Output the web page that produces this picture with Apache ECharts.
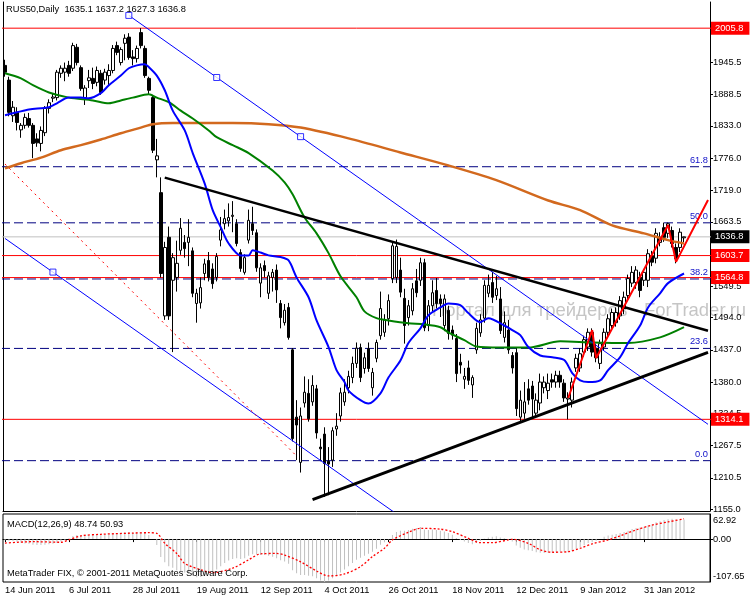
<!DOCTYPE html>
<html><head><meta charset="utf-8">
<script src="https://cdn.jsdelivr.net/npm/echarts@6/dist/echarts.min.js"></script>
<style>html,body{margin:0;padding:0;background:#fff}#c{width:750px;height:600px}</style>
</head><body><div id="c"></div>
<script>
// ---------- DATA ----------
const dateLabels = ['14 Jun 2011','6 Jul 2011','28 Jul 2011','19 Aug 2011','12 Sep 2011','4 Oct 2011','26 Oct 2011','18 Nov 2011','12 Dec 2011','9 Jan 2012','31 Jan 2012'];
const labelStep = 16;

const opens = [1940,1914,1851,1857,1826,1834,1846,1834,1810,1802,
1821,1864,1882,1883,1926,1928,1940,1935,1972,1936,
1883,1913,1917,1910,1926,1914,1922,1931,1975,1945,
1979,1990,1955,1952,1998,1970,1917,1883,1773,1715,
1497,1636,1560,1565,1613,1627,1627,1612,1519,1520,
1572,1595,1580,1565,1631,1660,1665,1673,1660,1609,
1574,1631,1660,1644,1555,1586,1537,1565,1578,1519,
1485,1512,1437,1318,1238,1343,1360,1345,1368,1265,
1288,1240,1242,1297,1320,1345,1370,1388,1413,1441,
1404,1439,1370,1422,1462,1468,1492,1563,1565,1578,
1528,1494,1506,1559,1560,1591,1480,1515,1542,1527,
1480,1507,1472,1457,1415,1385,1405,1375,1437,1467,
1493,1537,1556,1533,1527,1459,1472,1427,1432,1318,
1325,1368,1373,1325,1343,1370,1365,1384,1380,1392,
1378,1350,1348,1405,1405,1433,1442,1468,1440,1413,
1442,1468,1480,1485,1497,1510,1533,1555,1556,1565,
1560,1560,1603,1599,1627,1653,1643,1648,1618,1618,
1635.1];
const highs = [1950,1920,1877,1866,1838,1855,1856,1838,1820,1832,
1868,1880,1890,1932,1940,1945,1948,1980,1978,1940,
1905,1932,1936,1938,1932,1934,1942,1976,1982,1972,
1995,1997,1967,1975,2006,1975,1920,1888,1810,1742,
1628,1655,1608,1630,1670,1640,1668,1618,1545,1565,
1598,1610,1590,1608,1672,1685,1696,1700,1668,1615,
1606,1685,1690,1650,1590,1595,1575,1580,1588,1525,
1518,1520,1440,1348,1335,1390,1385,1392,1375,1280,
1300,1265,1300,1325,1370,1385,1400,1425,1450,1448,
1432,1450,1405,1455,1540,1500,1535,1628,1632,1600,
1545,1525,1555,1580,1600,1598,1525,1560,1564,1535,
1535,1515,1480,1465,1430,1405,1418,1392,1485,1500,
1560,1570,1575,1568,1548,1505,1490,1433,1440,1365,
1380,1385,1382,1360,1395,1390,1395,1395,1400,1400,
1385,1362,1388,1430,1440,1462,1475,1475,1448,1455,
1475,1500,1510,1512,1532,1540,1570,1585,1585,1575,
1580,1615,1612,1652,1645,1662,1662,1655,1625,1652,
1637.2];
const lows = [1920,1850,1840,1825,1812,1828,1830,1776,1796,1788,
1815,1855,1875,1878,1918,1912,1920,1930,1940,1895,
1870,1900,1898,1903,1888,1906,1904,1926,1958,1940,
1949,1950,1940,1945,1970,1918,1888,1785,1742,1565,
1490,1490,1433,1540,1605,1600,1585,1530,1485,1510,
1560,1558,1545,1558,1620,1650,1655,1645,1620,1575,
1570,1625,1640,1575,1530,1565,1527,1540,1520,1475,
1480,1455,1275,1242,1220,1335,1310,1338,1280,1240,
1177,1180,1230,1285,1310,1338,1360,1378,1405,1380,
1395,1398,1356,1415,1455,1460,1480,1555,1555,1530,
1448,1480,1498,1530,1550,1470,1470,1505,1510,1495,
1470,1455,1455,1380,1395,1368,1375,1352,1430,1460,
1485,1530,1520,1525,1465,1450,1430,1395,1320,1310,
1315,1340,1315,1318,1330,1360,1350,1370,1370,1370,
1345,1314,1335,1398,1398,1425,1435,1425,1415,1403,
1435,1460,1472,1478,1490,1500,1525,1548,1545,1530,
1550,1548,1585,1590,1620,1628,1635,1618,1590,1610,
1627.3];
const closes = [1928,1857,1866,1839,1834,1848,1834,1802,1803,1825,
1864,1874,1884,1928,1935,1935,1926,1975,1945,1899,
1900,1918,1908,1931,1892,1928,1931,1970,1963,1968,
1988,1954,1952,1970,1975,1922,1896,1790,1780,1572,
1618,1497,1600,1590,1652,1616,1636,1537,1537,1547,
1589,1565,1554,1602,1649,1669,1671,1675,1625,1581,
1600,1666,1648,1582,1582,1577,1568,1574,1543,1494,
1507,1459,1280,1304,1320,1362,1315,1374,1290,1262,
1236,1235,1294,1302,1361,1362,1390,1413,1440,1388,
1423,1404,1397,1450,1510,1490,1524,1621,1620,1539,
1480,1515,1545,1538,1591,1476,1515,1538,1519,1519,
1527,1466,1463,1395,1410,1390,1383,1388,1475,1490,
1551,1551,1530,1545,1471,1485,1437,1405,1333,1348,
1345,1348,1350,1348,1380,1380,1378,1380,1392,1380,
1352,1352,1380,1422,1430,1455,1468,1433,1423,1448,
1468,1492,1503,1503,1524,1530,1563,1574,1578,1542,
1574,1607,1592,1643,1636,1636,1660,1625,1598,1645,
1636.8];

// moving averages: [bar index, value]
const maBlue = [[0,1852],[3,1857],[6,1862],[11,1866],[13,1873],[16,1883],[19,1883],[21,1882],[24,1891],[26,1905],[29,1922],[31,1935],[33,1940],[35,1942],[36,1937],[38,1922],[40,1896],[42,1860],[45,1825],[47,1785],[50,1731],[52,1684],[54,1654],[56,1625],[59,1604],[61,1604],[62,1613],[64,1609],[66,1604],[69,1601],[71,1595],[73,1565],[76,1530],[78,1489],[81,1442],[83,1401],[85,1380],[86,1365],[89,1348],[91,1342],[94,1360],[96,1388],[99,1418],[101,1449],[104,1475],[106,1498],[109,1512],[111,1519],[114,1516],[116,1502],[119,1486],[121,1493],[125,1480],[127,1472],[129,1463],[131,1442],[134,1427],[137,1424],[140,1419],[142,1396],[144,1383],[146,1380],[149,1383],[151,1401],[154,1424],[156,1449],[159,1480],[161,1512],[164,1537],[166,1555],[170,1572]];
const maGreen = [[0,1926],[4,1917],[7,1905],[11,1892],[16,1883],[22,1878],[26,1873],[29,1878],[32,1883],[36,1889],[38,1883],[41,1875],[44,1860],[47,1846],[51,1825],[53,1813],[57,1799],[61,1785],[67,1754],[70,1733],[72,1712],[75,1671],[78,1643],[81,1608],[84,1567],[88,1530],[90,1505],[93,1493],[96,1489],[101,1484],[105,1482],[109,1477],[111,1468],[115,1454],[118,1443],[124,1441],[131,1441],[139,1452],[147,1450],[156,1449],[164,1459],[170,1477]];
const maOrange = [[0,1758],[4,1767],[9,1777],[14,1790],[19,1799],[24,1809],[29,1820],[34,1830],[37,1836],[42,1838],[57,1838],[66,1836],[74,1830],[86,1811],[99,1786],[111,1763],[123,1737],[136,1701],[144,1684],[152,1657],[160,1643],[166,1631],[170,1625]];

// drawn objects: [bar index, price]
const trendDown = [[40,1741.5],[176,1470.8]];
const trendUp = [[77,1172],[176,1432.6]];
const channelUpper = [[31,2028.4],[176,1305.3]];
const channelLower = [[0,1634],[100,1137]];
const channelAnchors = [[31,2028.4],[53,1918.6],[74,1814],[12,1574.5]];
const redDotted = [[0,1765.6],[73,1249.2]];
const zigzag = [[141,1351.8],[147,1472],[148,1422.5],[166,1657.7],[168,1592.6],[176,1702]];

const priceTicks = [1945.5,1888.5,1833.0,1776.0,1719.0,1663.5,1549.5,1494.0,1437.0,1380.0,1324.5,1267.5,1210.5,1155.0];
const redLevels = [2005.8,1603.7,1564.8,1314.1];
const lastPrice = 1636.8;
const fibLabels = ['0.0','23.6','38.2','50.0','61.8'];
const fibValues = [1241,1439.5,1562.3,1661.6,1760.8];

const macdHist = [-3,-4,-5,-7,-9,-11,-12,-14,-15,-15,
-14,-13,-12,-10,-6,-2,2,8,10,9,
8,9,10,11,10,11,12,14,15,16,
18,17,16,17,18,15,10,0,-15,-45,
-58,-68,-72,-78,-80,-84,-86,-92,-96,-95,
-92,-88,-84,-76,-68,-60,-54,-50,-48,-50,
-48,-42,-38,-38,-40,-40,-42,-44,-48,-53,
-56,-62,-78,-86,-90,-90,-92,-93,-98,-104,
-107.65,-104,-98,-92,-84,-76,-68,-60,-52,-47,
-42,-37,-32,-24,-14,-8,-1,10,18,21,
21,23,26,28,30,24,23,24,23,21,
19,15,11,3,-2,-6,-10,-13,-9,-5,
1,4,6,7,4,2,-2,-6,-16,-22,
-26,-28,-30,-33,-34,-35,-35,-34,-33,-31,
-32,-33,-30,-25,-20,-15,-10,-8,-4,0,
6,9,11,13,15,18,21,25,28,29,
31,35,37,42,45,48,50,51,49,49,
48.74];
const macdSignal = [[0,-10],[7,-6.5],[14,-8],[16,-2],[19,8],[24,12],[32,15],[36,16],[38,14.5],[40,-10.6],[43,-36],[45,-61],[49,-77],[52,-84],[57,-73],[61,-52],[64,-37],[68,-36],[70,-40],[74,-57],[78,-80],[81,-92.5],[85,-87.5],[89,-69],[92,-44],[95,-23],[97,-2],[101,17],[104,27],[109,25],[112,18.6],[116,2],[119,-9],[122,-9],[126,-2],[127,-0.5],[131,-10.6],[134,-27],[137,-33],[141,-31.6],[144,-23],[147,-12],[151,-2],[154,8],[158,23],[162,35],[166,43],[170,50.93]];
const macdTicks = [62.92, 0, -107.65];

// ---------- CHART ----------
const FONT = '"Liberation Sans", Arial, sans-serif';
const FS = 9.3;
const N = 177;
const isLabel = (i) => i % labelStep === 0 && i / labelStep < dateLabels.length;
const categories = Array.from({length: N}, (_, i) => isLabel(i) ? dateLabels[i / labelStep] : 'bar' + i);
const candleData = opens.map((o, i) => [o, closes[i], lows[i], highs[i]]);

function lineSeries(data, color, width, type, z) {
  return {type: 'line', xAxisIndex: 0, yAxisIndex: 0, data: data, showSymbol: false,
    symbol: 'none', lineStyle: {color: color, width: width, type: type || 'solid'},
    z: z || 4, silent: true, clip: true, animation: false};
}
// full-width horizontal level drawn as a line series, tag label on the price axis via markLine label
function hLevel(v, color, type, label, z) {
  const s = lineSeries([[-1, v], [N, v]], color, 1, type, z);
  s.markLine = {symbol: ['none', 'none'], silent: true, animation: false,
    lineStyle: {color: 'rgba(0,0,0,0)', width: 0},
    label: label, data: [{yAxis: v}]};
  return s;
}
const tagLabel = (bg, v) => ({show: true, position: 'end', distance: 1,
  formatter: v.toFixed(1), backgroundColor: bg, color: '#fff', fontFamily: FONT, fontSize: FS,
  padding: [2, 6, 1, 4], lineHeight: 10});
const fibLabel = (t) => ({show: true, position: 'insideEndTop', distance: 2, formatter: t,
  color: '#1010c8', fontFamily: FONT, fontSize: FS});

const levelSeries = [];
fibValues.forEach((v, k) => levelSeries.push(hLevel(v, '#000080', [9, 4], fibLabel(fibLabels[k]), 2)));
levelSeries.push(hLevel(lastPrice, '#c0c0c0', 'solid', tagLabel('#000000', lastPrice), 2));
redLevels.forEach(v => levelSeries.push(hLevel(v, '#ff0000', 'solid', tagLabel('#ff0000', v), 2)));

const option = {
  animation: false,
  textStyle: {fontFamily: FONT},
  grid: [
    {left: 3, right: 40, top: 2, height: 509},
    {left: 3, right: 40, top: 514, height: 68, show: true, borderColor: '#000', borderWidth: 1}
  ],
  xAxis: [
    {type: 'category', gridIndex: 0, data: categories, boundaryGap: true,
      axisLine: {show: true, lineStyle: {color: '#000'}}, axisTick: {show: false}, axisLabel: {show: false}, splitLine: {show: false}},
    {type: 'category', gridIndex: 1, data: categories, boundaryGap: true,
      axisLine: {show: true, lineStyle: {color: '#000'}},
      axisTick: {show: true, interval: (i) => isLabel(i), alignWithLabel: true, length: 3, lineStyle: {color: '#000'}},
      axisLabel: {show: true, interval: (i) => isLabel(i), align: 'left', margin: 4, color: '#000', fontFamily: FONT, fontSize: FS},
      splitLine: {show: false}}
  ],
  yAxis: [
    {type: 'value', gridIndex: 0, position: 'right', min: 1152, max: 2052.1,
      axisLine: {show: true, lineStyle: {color: '#000'}},
      axisTick: {show: true, customValues: priceTicks, length: 3, lineStyle: {color: '#000'}},
      axisLabel: {show: true, customValues: priceTicks, margin: 3, color: '#000', fontFamily: FONT, fontSize: FS,
        formatter: (v) => Number(v).toFixed(1)},
      splitLine: {show: false}},
    {type: 'value', gridIndex: 0, position: 'left', min: 1152, max: 2052.1,
      axisLine: {show: true, lineStyle: {color: '#000'}}, axisTick: {show: false}, axisLabel: {show: false}, splitLine: {show: false}},
    {type: 'value', gridIndex: 1, position: 'right', min: -107.65, max: 62.92,
      axisLine: {show: true, lineStyle: {color: '#000'}},
      axisTick: {show: true, customValues: [0], length: 3, lineStyle: {color: '#000'}},
      axisLabel: {show: true, customValues: macdTicks, margin: 3, color: '#000', fontFamily: FONT, fontSize: FS,
        formatter: (v) => {
          const s = Number(v).toFixed(2);
          if (Math.abs(v - macdTicks[0]) < 1e-6) return '{t|' + s + '}';
          if (Math.abs(v - macdTicks[2]) < 1e-6) return '{b|' + s + '}';
          return s;
        },
        rich: {
          t: {padding: [12, 0, 0, 0], color: '#000', fontFamily: FONT, fontSize: FS},
          b: {padding: [0, 0, 12, 0], color: '#000', fontFamily: FONT, fontSize: FS}
        }},
      splitLine: {show: false}}
  ],
  graphic: [
    {type: 'text', left: 432, top: 301, z: 0, silent: true,
      style: {text: 'Портал для трейдеров - ForTrader.ru', font: '18.5px ' + FONT, fill: 'rgba(140,140,140,0.5)'}},
    {type: 'text', left: 6, top: 5, z: 100, silent: true,
      style: {text: 'RUS50,Daily  1635.1 1637.2 1627.3 1636.8', font: FS + 'px ' + FONT, fill: '#000'}},
    {type: 'text', left: 7, top: 520, z: 100, silent: true,
      style: {text: 'MACD(12,26,9) 48.74 50.93', font: FS + 'px ' + FONT, fill: '#000'}},
    {type: 'text', left: 7, top: 569, z: 100, silent: true,
      style: {text: 'MetaTrader FIX, © 2001-2011 MetaQuotes Software Corp.', font: FS + 'px ' + FONT, fill: '#000'}}
  ],
  series: levelSeries.concat([
    {type: 'candlestick', name: 'RUS50', xAxisIndex: 0, yAxisIndex: 0, data: candleData,
      barWidth: 3, z: 3, silent: true,
      itemStyle: {color: '#ffffff', color0: '#000000', borderColor: '#000000', borderColor0: '#000000', borderWidth: 1}},
    Object.assign(lineSeries(maOrange, '#d2691e', 2.5, 'solid', 4), {smooth: 0.3}),
    Object.assign(lineSeries(maGreen, '#008000', 2, 'solid', 4), {smooth: 0.3}),
    Object.assign(lineSeries(maBlue, '#0000ff', 2, 'solid', 4), {smooth: 0.3}),
    lineSeries(channelUpper, '#0000ff', 1, 'solid', 5),
    lineSeries(channelLower, '#0000ff', 1, 'solid', 5),
    lineSeries(redDotted, '#ff0000', 1, [2, 4], 5),
    lineSeries(trendDown, '#000000', 2.5, 'solid', 6),
    lineSeries(trendUp, '#000000', 3, 'solid', 6),
    lineSeries(zigzag, '#ff0000', 2, 'solid', 7),
    {type: 'scatter', xAxisIndex: 0, yAxisIndex: 0, data: channelAnchors, symbol: 'rect', symbolSize: 6, z: 8, silent: true,
      itemStyle: {color: '#ffffff', borderColor: '#0000ff', borderWidth: 1}},
    {type: 'bar', xAxisIndex: 1, yAxisIndex: 2, data: macdHist, barWidth: 1, silent: true,
      itemStyle: {color: '#c0c0c0'}},
    {type: 'line', xAxisIndex: 1, yAxisIndex: 2, data: macdSignal, smooth: 0.3, showSymbol: false, symbol: 'none', silent: true,
      lineStyle: {color: '#ff0000', width: 1.3, type: [2, 2]}, z: 5}
  ])
};
const chart = echarts.init(document.getElementById('c'));
chart.setOption(option);
</script>
</body></html>
